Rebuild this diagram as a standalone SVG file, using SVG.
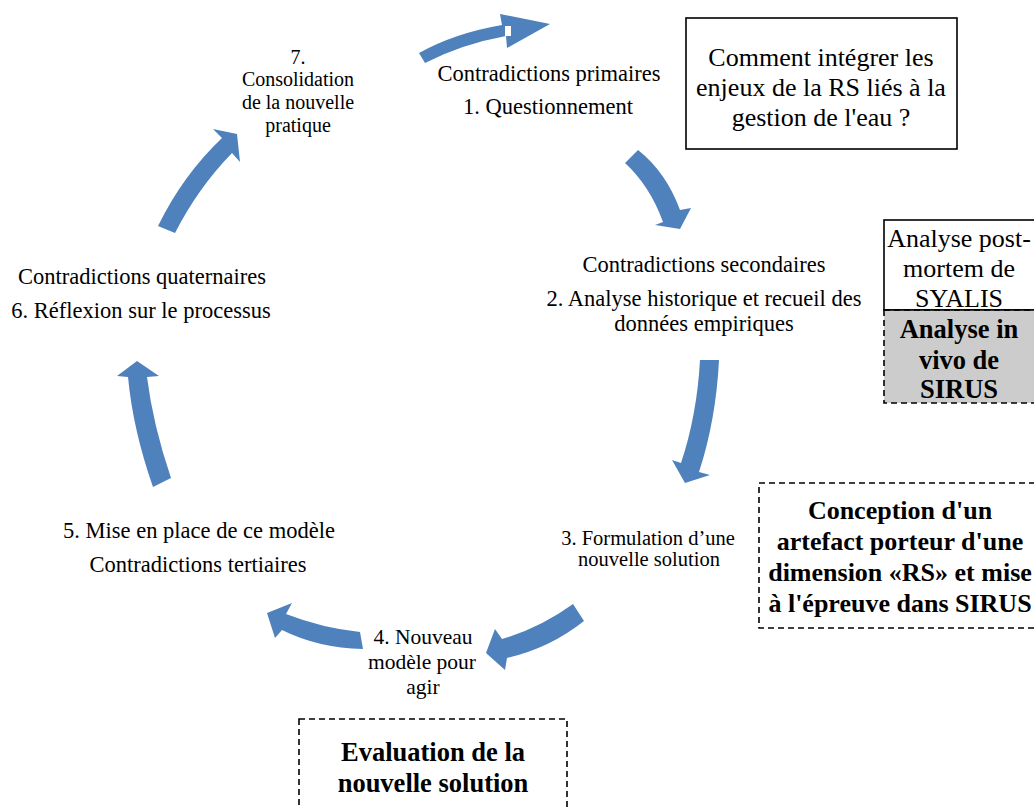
<svg xmlns="http://www.w3.org/2000/svg" width="1034" height="809" viewBox="0 0 1034 809">
<style>
.t{font-family:"Liberation Serif","Times New Roman",serif;fill:#000;text-anchor:middle}
.m{font-size:22.5px}
.s{font-size:20px}
.s4{font-size:21.5px}
.xs{font-size:20.5px}
.l{font-size:26px}
.b{font-size:26.5px;font-weight:bold}
.bc{font-size:26px;font-weight:bold}
.arr{fill:#4F81BD}
.solid{fill:#fff;stroke:#000;stroke-width:1.6}
.dash{fill:none;stroke:#000;stroke-width:1.6;stroke-dasharray:6,4}
</style>
<rect width="1034" height="809" fill="#fff"/>
<g id="connectors">
<path class="arr" d="M419,53 Q455,33 502,25 L500,14 L550,24 L507,48 L506,36 Q462,44 425,63 Z"/>
<rect x="505" y="26" width="6" height="10" fill="#fff"/>
<path class="arr" d="M625,163 Q650,186 663,222 L655,225 L680,229 L691,208 L680,210 Q666,172 638,150 Z"/>
<path class="arr" d="M700,360 Q697,415 681,463 L672,460 L685,483 L710,475 L699,472 Q716,420 719,360 Z"/>
<path class="arr" d="M573,604 Q540,628 502,639 L495,629 L486,653 L505,670 L507,658 Q550,648 584,621 Z"/>
<path class="arr" d="M360,632 Q322,628 286,614 L292,603 L267,613 L275,638 L282,630 Q318,648 363,649 Z"/>
<path class="arr" d="M171,478 Q153,425 147,377 L159,376 L137,361 L117,376 L128,377 Q133,430 153,487 Z"/>
<path class="arr" d="M175,233 Q198,188 232,153 L240,162 L237,134 L213,129 L222,138 Q183,175 158,226 Z"/>
</g>
<g id="step7">
<text class="t s" x="298" y="64">7.</text>
<text class="t s" x="298" y="86">Consolidation</text>
<text class="t s" x="298" y="109">de la nouvelle</text>
<text class="t s" x="298" y="132">pratique</text>
</g>
<g id="step1">
<text class="t m" x="549" y="81">Contradictions primaires</text>
<text class="t m" x="548" y="114">1. Questionnement</text>
</g>
<g id="question">
<rect class="solid" x="686" y="18" width="271" height="131"/>
<text class="t l" x="821" y="66">Comment intégrer les</text>
<text class="t l" x="821" y="96">enjeux de la RS liés à la</text>
<text class="t l" x="821" y="126">gestion de l'eau ?</text>
</g>
<g id="step2">
<text class="t m" x="704" y="272">Contradictions secondaires</text>
<text class="t m" x="704" y="306">2. Analyse historique et recueil des</text>
<text class="t m" x="704" y="331">données empiriques</text>
</g>
<g id="analyse">
<rect class="solid" x="884" y="220" width="160" height="90"/>
<rect x="884" y="310" width="160" height="93" fill="#CCCCCC" stroke="#000" stroke-width="1.6" stroke-dasharray="6,4"/>
<line x1="884" y1="310" x2="1034" y2="310" stroke="#000" stroke-width="1.6"/>
<text class="t l" x="959" y="247">Analyse post-</text>
<text class="t l" x="959" y="277">mortem de</text>
<text class="t l" x="959" y="307">SYALIS</text>
<text class="t b" x="959" y="338">Analyse in</text>
<text class="t b" x="959" y="369">vivo de</text>
<text class="t b" x="959" y="398">SIRUS</text>
</g>
<g id="step6">
<text class="t m" x="142" y="284">Contradictions quaternaires</text>
<text class="t m" x="141" y="318">6. Réflexion sur le processus</text>
</g>
<g id="step5">
<text class="t m" x="199" y="538">5. Mise en place de ce modèle</text>
<text class="t m" x="198" y="572">Contradictions tertiaires</text>
</g>
<g id="step3">
<text class="t xs" x="648" y="545">3. Formulation d’une</text>
<text class="t xs" x="649" y="566">nouvelle solution</text>
</g>
<g id="conception">
<rect class="dash" x="759" y="483" width="290" height="145"/>
<text class="t bc" x="900" y="519">Conception d'un</text>
<text class="t bc" x="900" y="550">artefact porteur d'une</text>
<text class="t bc" x="900" y="581">dimension «RS» et mise</text>
<text class="t bc" x="900" y="612">à l'épreuve dans SIRUS</text>
</g>
<g id="step4">
<text class="t s4" x="423" y="644">4. Nouveau</text>
<text class="t s4" x="422" y="669">modèle pour</text>
<text class="t s4" x="423" y="694">agir</text>
</g>
<g id="evaluation">
<rect class="dash" x="299" y="719" width="268" height="110"/>
<text class="t b" x="433" y="761">Evaluation de la</text>
<text class="t b" x="433" y="792">nouvelle solution</text>
</g>
</svg>
